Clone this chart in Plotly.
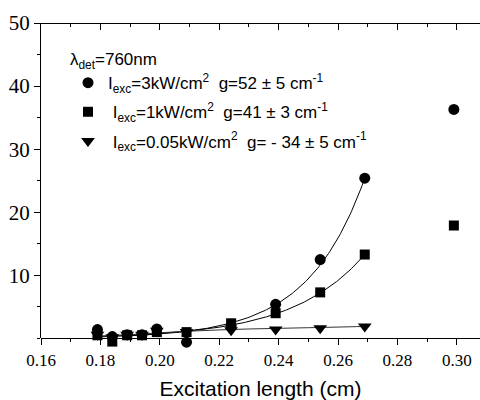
import numpy as np
import plotly.graph_objects as go

# Excitation stripe lengths (cm)
length_cm = [0.179, 0.184, 0.189, 0.194, 0.199, 0.209, 0.224, 0.239, 0.254, 0.269, 0.299]
length_low = length_cm[:10]

# ASE intensity (a.u.) for the three excitation densities
i_3kw = [1.4, 0.3, 0.6, 0.6, 1.5, -0.6, 2.0, 5.4, 12.5, 25.4, 36.3]
i_1kw = [0.5, -0.5, 0.5, 0.5, 1.0, 1.0, 2.4, 4.0, 7.3, 13.3, 17.9]
i_005kw = [0.6, 0.2, 0.6, 0.6, 1.2, 1.0, 1.3, 1.4, 1.6, 1.9]

# Fitted gain coefficients (cm^-1)
g_3kw = 52
g_1kw = 41

# Saturating fit for the lowest excitation density
fit_005_x = [0.179, 0.19, 0.20, 0.21, 0.22, 0.23, 0.24, 0.25, 0.26, 0.269]
fit_005_y = [0.3, 0.6, 0.9, 1.15, 1.35, 1.5, 1.6, 1.7, 1.8, 1.9]

tick_x = [0.16, 0.18, 0.20, 0.22, 0.24, 0.26, 0.28, 0.30]
tick_y = [10, 20, 30, 40, 50]

# VSL model curves I(L) ~ (exp(gL) - 1)/g, scaled to the last fitted point
L = np.linspace(0.179, 0.269, 200)
def vsl(g, L_end, I_end):
    shape = (np.exp(g * L) - 1) / g
    return shape * I_end / ((np.exp(g * L_end) - 1) / g)

fit_3kw = vsl(g_3kw, length_cm[9], i_3kw[9])
fit_1kw = vsl(g_1kw, length_cm[9], i_1kw[9])

# data sit on a hidden axis reaching a little below zero so that
# slightly negative points stay visible under the drawn x axis
y_top = 50
y_low = -1.2
frac0 = (0 - y_low) / (y_top - y_low)

fig = go.Figure()

line_style = dict(color="black", width=1)
fig.add_trace(go.Scatter(x=L, y=fit_3kw, mode="lines", line=line_style, yaxis="y2",
                         showlegend=False, hoverinfo="skip"))
fig.add_trace(go.Scatter(x=L, y=fit_1kw, mode="lines", line=line_style, yaxis="y2",
                         showlegend=False, hoverinfo="skip"))
fig.add_trace(go.Scatter(x=fit_005_x, y=fit_005_y, mode="lines", yaxis="y2",
                         line=dict(color="#333333", width=1, shape="spline"),
                         showlegend=False, hoverinfo="skip"))

nb = "\u00a0"
fig.add_trace(go.Scatter(
    x=length_cm, y=i_3kw, mode="markers", cliponaxis=False, yaxis="y2",
    marker=dict(symbol="circle", size=11, color="black"),
    name=f"I<sub>exc</sub>=3kW/cm<sup>2</sup>{nb}{nb}g=52 ± 5 cm<sup>-1</sup>",
    legendgroup="a"))
fig.add_trace(go.Scatter(
    x=length_cm, y=i_1kw, mode="markers", cliponaxis=False, yaxis="y2",
    marker=dict(symbol="square", size=10, color="black"),
    name=f"{nb}I<sub>exc</sub>=1kW/cm<sup>2</sup>{nb}{nb}g=41 ± 3 cm<sup>-1</sup>",
    legendgroup="b"))
fig.add_trace(go.Scatter(
    x=length_low, y=i_005kw, mode="markers", cliponaxis=False, yaxis="y2",
    marker=dict(symbol="triangle-down", size=12, color="black"),
    name=f"{nb}I<sub>exc</sub>=0.05kW/cm<sup>2</sup>{nb}{nb}g={nb}-{nb}34 ± 5 cm<sup>-1</sup>",
    legendgroup="c"))

# visible frame axes
fig.add_trace(go.Scatter(x=[0.16], y=[None], showlegend=False, hoverinfo="skip"))
fig.add_trace(go.Scatter(x=[0.16], y=[None], xaxis="x2", showlegend=False,
                         hoverinfo="skip"))

serif = "Liberation Serif"
sans = "Liberation Sans"
xrange = [0.16, 0.3078]
fig.update_layout(
    width=480, height=400,
    margin=dict(l=41, r=0, t=23, b=54),
    paper_bgcolor="white", plot_bgcolor="rgba(0,0,0,0)",
    showlegend=True,
    legend=dict(
        x=0.0615, y=0.938, xanchor="left", yanchor="top",
        bgcolor="rgba(0,0,0,0)",
        font=dict(family=sans, size=17, color="black"),
        title=dict(text="λ<sub>det</sub>=760nm",
                   font=dict(family=sans, size=17, color="black")),
        tracegroupgap=4,
        itemwidth=30,
    ),
    xaxis=dict(
        range=xrange, tickvals=tick_x, ticktext=[f"{v:.2f}" for v in tick_x],
        anchor="free", position=frac0,
        showline=True, linecolor="black", linewidth=1,
        ticks="outside", ticklen=6, tickwidth=1, tickcolor="black",
        minor=dict(ticks="outside", ticklen=3, dtick=0.01, tick0=0.16, tickcolor="black"),
        showgrid=False, zeroline=False,
        tickfont=dict(family=serif, size=17, color="black"),
        title=dict(text="Excitation length (cm)", standoff=14,
                   font=dict(family=sans, size=21, color="black")),
    ),
    xaxis2=dict(
        range=xrange, overlaying="x", side="top", matches="x",
        anchor="free", position=1,
        tickvals=tick_x, showticklabels=False,
        showline=True, linecolor="black", linewidth=1,
        ticks="inside", ticklen=6, tickwidth=1, tickcolor="black",
        minor=dict(ticks="inside", ticklen=3, dtick=0.01, tick0=0.16, tickcolor="black"),
        showgrid=False, zeroline=False,
    ),
    yaxis=dict(
        range=[0, y_top], tickvals=tick_y, domain=[frac0, 1],
        showline=True, linecolor="black", linewidth=1,
        ticks="outside", ticklen=6, tickwidth=1, tickcolor="black",
        minor=dict(ticks="outside", ticklen=3, dtick=5, tick0=0, tickcolor="black"),
        showgrid=False, zeroline=False,
        tickfont=dict(family=serif, size=21, color="black"),
    ),
    yaxis2=dict(
        range=[y_low, y_top], domain=[0, 1], anchor="x", visible=False,
        showgrid=False, zeroline=False,
    ),
)

fig.write_html("out.html")
